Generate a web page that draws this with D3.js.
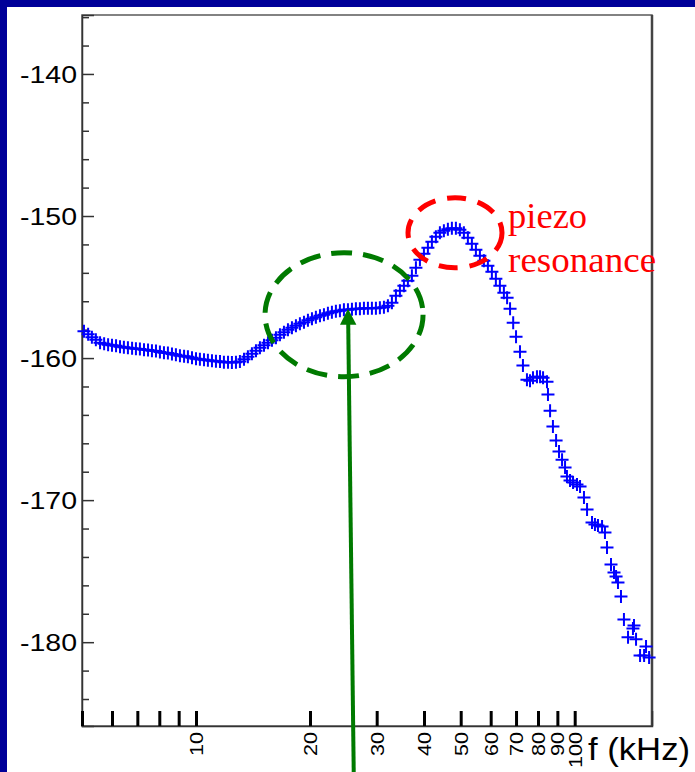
<!DOCTYPE html>
<html>
<head>
<meta charset="utf-8">
<script src="https://cdn.jsdelivr.net/npm/d3@7"></script>
<style>
  html, body { margin: 0; padding: 0; background: #000099; }
  svg { display: block; }
</style>
</head>
<body>
<svg id="chart" width="695" height="772"></svg>
<script>
// Measured noise level (dB) versus frequency (kHz), log-frequency axis.
const bandFreq = [5.06,5.19,5.31,5.44,5.58,5.72,5.86,6.00,6.15,6.30,
  6.45,6.61,6.78,6.94,7.11,7.29,7.47,7.65,7.84,8.03,
  8.23,8.43,8.64,8.85,9.07,9.30,9.52,9.76,10.00,10.24,
  10.50,10.75,11.02,11.29,11.57,11.85,12.15,12.44,12.75,13.06,
  13.39,13.71,14.05,14.40,14.75,15.12,15.49,15.87,16.26,16.66,
  17.07,17.49,17.92,18.36,18.81,19.28,19.75,20.24,20.73,21.25,
  21.77,22.30,22.85,23.41,23.99,24.58,25.19,25.81,26.44,27.09,
  27.76,28.44,29.14,29.86,30.59,31.35,32.12,32.91,33.72,34.55,
  35.40,36.27,37.16,38.08,39.02,39.98,40.96,41.97,43.00,44.06,
  45.14,46.25,47.39,48.56,49.75,50.98,52.23,53.52,54.84,56.19,
  57.57,58.99,60.44,61.92,63.45,65.01];
const bandLevel = [-158.11,-158.32,-158.53,-158.71,-158.92,-158.99,-159.06,-159.09,-159.13,-159.20,
  -159.23,-159.27,-159.30,-159.34,-159.37,-159.41,-159.44,-159.48,-159.51,-159.58,
  -159.62,-159.65,-159.72,-159.76,-159.83,-159.87,-159.90,-159.97,-160.04,-160.08,
  -160.11,-160.15,-160.18,-160.22,-160.25,-160.29,-160.29,-160.32,-160.29,-160.25,
  -160.08,-159.90,-159.69,-159.48,-159.27,-159.09,-158.92,-158.74,-158.57,-158.35,
  -158.18,-158.00,-157.86,-157.72,-157.58,-157.48,-157.34,-157.23,-157.12,-157.02,
  -156.95,-156.84,-156.77,-156.70,-156.67,-156.60,-156.60,-156.56,-156.53,-156.53,
  -156.49,-156.49,-156.49,-156.49,-156.46,-156.42,-156.32,-156.10,-155.61,-155.26,
  -154.91,-154.56,-154.21,-153.64,-153.08,-152.66,-152.24,-151.81,-151.46,-151.18,
  -151.04,-150.94,-150.87,-150.87,-150.97,-151.18,-151.53,-151.95,-152.38,-152.80,
  -153.15,-153.50,-153.92,-154.42,-154.91,-155.40];

const tailFreq = [66.3,67.5,68.8,70.0,71.7,73.0,74.8,76.2,77.6,79.5,
  81.0,82.5,84.5,85.0,86.1,87.6,89.3,90.9,92.6,94.3,
  95.4,97.2,99.0,101.4,103.3,105.8,107.8,111.1,113.1,115.2,
  118.1,120.2,121.7,124.7,127.0,128.6,130.1,132.5,134.9,138.3,
  142.5,143.4,145.2,148.8,152.5,154.3,157.2];
const tailLevel = [-155.75,-156.53,-157.51,-158.50,-159.55,-160.53,-161.52,-161.59,-161.38,-161.31,
  -161.31,-161.38,-161.66,-162.57,-163.70,-164.82,-165.81,-166.58,-167.15,-167.71,
  -168.34,-168.62,-168.76,-168.90,-169.04,-169.82,-170.66,-171.58,-171.72,-171.79,
  -171.86,-172.28,-173.33,-174.53,-175.09,-175.37,-175.79,-176.78,-178.40,-179.66,
  -179.03,-178.82,-179.80,-180.93,-180.93,-180.30,-181.07];

const xTickValues = [5,6,7,8,9,10,20,30,40,50,60,70,80,90,100];
const xTickLabels = ["","","","","","10","20","30","40","50","60","70","80","90","100"];
const yMajorTicks = [-180,-170,-160,-150,-140];
const yMinorTicks = [-184,-182,-178,-176,-174,-172,-168,-166,-164,-162,-158,-156,-154,-152,-148,-146,-144,-142,-138,-136];
const xTitle = "f (kHz)";
const noteLines = ["piezo", "resonance"];

const svg = d3.select("#chart");
const W = 695, H = 772;
const plot = {left: 82, top: 15, right: 652, bottom: 726};
const sans = "Arial, 'Liberation Sans', sans-serif";

// white panel over the navy page
svg.append("rect").attr("x", 0).attr("y", 0).attr("width", W).attr("height", H).attr("fill", "#000099");
svg.append("rect").attr("x", 7).attr("y", 7).attr("width", W - 7).attr("height", H - 7).attr("fill", "#ffffff");

const x = d3.scaleLog().domain([5, 160]).range([plot.left, plot.right]);
const y = d3.scaleLinear().domain([-185.9, -135.85]).range([plot.bottom, plot.top]);

// frame
svg.append("rect")
  .attr("x", plot.left).attr("y", plot.top)
  .attr("width", plot.right - plot.left).attr("height", plot.bottom - plot.top)
  .attr("fill", "none").attr("stroke", "#5a5a5a").attr("stroke-width", 1.5);
svg.append("line")
  .attr("x1", plot.right).attr("x2", plot.right).attr("y1", plot.top).attr("y2", plot.bottom)
  .attr("stroke", "#444").attr("stroke-width", 2.5);

// y axis: major ticks with labels, minor ticks every 2 dB
const yAxisG = svg.append("g").attr("transform", `translate(${plot.left},0)`)
  .call(d3.axisLeft(y).tickValues(yMajorTicks).tickSize(-12).tickPadding(5).tickFormat(d => String(d)));
yAxisG.select(".domain").attr("stroke", "#333").attr("stroke-width", 1.5);
yAxisG.selectAll(".tick line").attr("stroke", "#333").attr("stroke-width", 1.5);
yAxisG.selectAll(".tick text")
  .attr("fill", "#000").attr("font-family", sans)
  .attr("font-size", 23).attr("dy", "0.36em")
  .attr("textLength", 57).attr("lengthAdjust", "spacingAndGlyphs");

const yMinorG = svg.append("g").attr("transform", `translate(${plot.left},0)`)
  .call(d3.axisLeft(y).tickValues(yMinorTicks).tickSize(-7).tickFormat(""));
yMinorG.select(".domain").remove();
yMinorG.selectAll(".tick line").attr("stroke", "#333").attr("stroke-width", 1.5);

// x axis: ticks point up into the plot, labels rotated
const xAxisG = svg.append("g").attr("transform", `translate(0,${plot.bottom})`)
  .call(d3.axisBottom(x).tickValues(xTickValues).tickSize(-15)
    .tickFormat((d, i) => xTickLabels[i]));
xAxisG.select(".domain").attr("stroke", "#333").attr("stroke-width", 1.5);
xAxisG.selectAll(".tick line").attr("stroke", "#000").attr("stroke-width", 3);
xAxisG.selectAll(".tick text")
  .attr("x", 0).attr("y", 0).attr("dy", "0.36em")
  .attr("transform", "translate(0,6) rotate(-90)")
  .style("text-anchor", "end")
  .attr("fill", "#000").attr("font-family", sans)
  .attr("font-size", 18)
  .each(function (d, i) {
    const t = xTickLabels[i];
    if (t) d3.select(this).attr("textLength", t.length * 12).attr("lengthAdjust", "spacingAndGlyphs");
  });

svg.append("text")
  .attr("x", 588).attr("y", 760)
  .attr("font-family", sans).attr("font-size", 31)
  .attr("fill", "#000")
  .attr("textLength", 102).attr("lengthAdjust", "spacingAndGlyphs")
  .text(xTitle);

// data markers (plus signs)
const points = bandFreq.map((f, i) => ({f, v: bandLevel[i]}))
  .concat(tailFreq.map((f, i) => ({f, v: tailLevel[i]})));
const plusPath = "M-6.5,0H6.5M0,-6.5V6.5";
svg.append("g").selectAll("path").data(points).join("path")
  .attr("transform", d => `translate(${x(d.f)},${y(d.v)})`)
  .attr("d", plusPath)
  .attr("fill", "none").attr("stroke", "#0000ff").attr("stroke-width", 2);

// annotations
const greenC = {f: 24.6, v: -156.95};
svg.append("ellipse")
  .attr("cx", x(greenC.f)).attr("cy", y(greenC.v)).attr("rx", 79).attr("ry", 62)
  .attr("fill", "none").attr("stroke", "#007a00").attr("stroke-width", 5)
  .attr("stroke-dasharray", "21 11");

const redC = {f: 48.3, v: -151.18};
svg.append("ellipse")
  .attr("cx", x(redC.f)).attr("cy", y(redC.v)).attr("rx", 47).attr("ry", 35)
  .attr("fill", "none").attr("stroke", "#ff0000").attr("stroke-width", 5)
  .attr("stroke-dasharray", "19 12");

// arrow pointing at the plateau
const tip = {f: 25.2, v: -156.53};
const tx = x(tip.f), ty = y(tip.v);
const bx = x(26.1), by = H + 5;
svg.append("line")
  .attr("x1", bx).attr("y1", by).attr("x2", tx + 0.2).attr("y2", ty + 14)
  .attr("stroke", "#007a00").attr("stroke-width", 4);
svg.append("path")
  .attr("d", `M${tx},${ty}L${tx - 8},${ty + 16}L${tx + 8.4},${ty + 16}Z`)
  .attr("fill", "#007a00");

const noteAt = {f: 66.7, v: -150.83};
const note = svg.append("text")
  .attr("font-family", "'Times New Roman', 'Liberation Serif', serif")
  .attr("font-size", 36).attr("fill", "#ff0000");
note.append("tspan").attr("x", x(noteAt.f)).attr("y", y(noteAt.v))
  .attr("textLength", 79).attr("lengthAdjust", "spacingAndGlyphs").text(noteLines[0]);
note.append("tspan").attr("x", x(noteAt.f)).attr("y", y(noteAt.v) + 44)
  .attr("textLength", 148).attr("lengthAdjust", "spacingAndGlyphs").text(noteLines[1]);
</script>
</body>
</html>
